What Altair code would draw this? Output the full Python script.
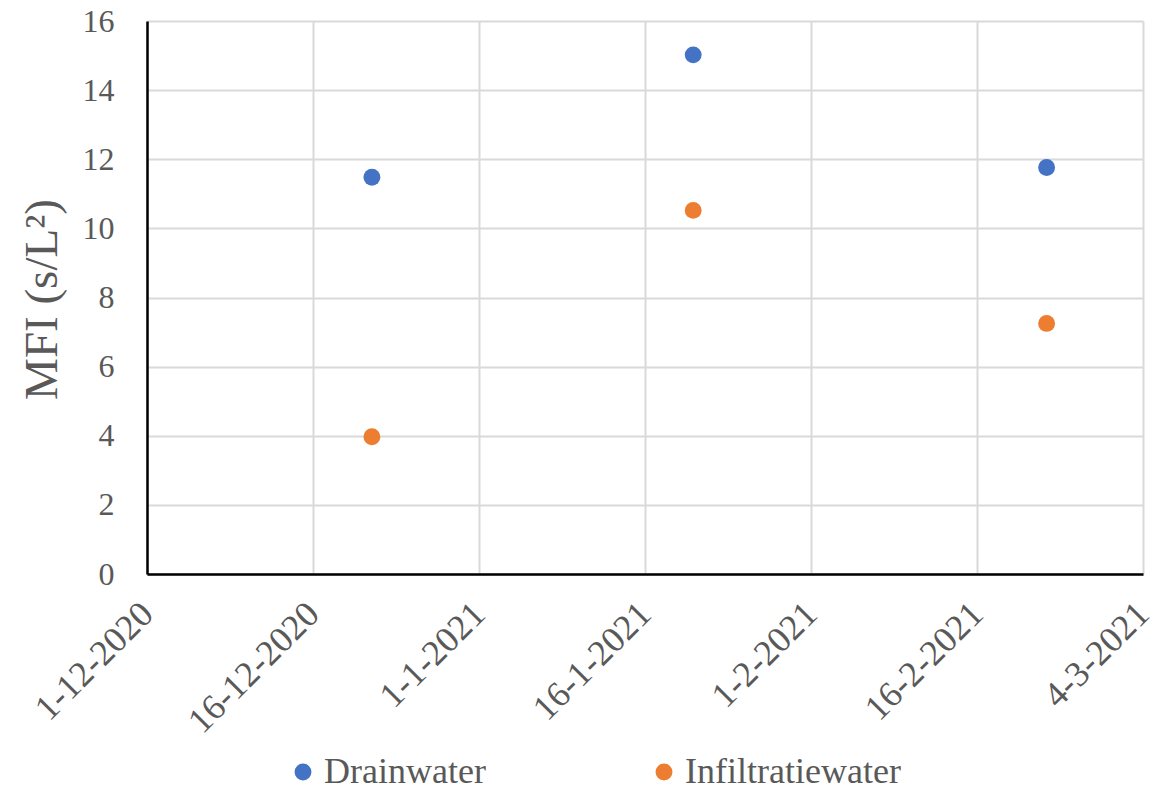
import altair as alt
import pandas as pd

# Data
dates = ["2020-12-22", "2021-01-21", "2021-02-23"]
drainwater = [11.48, 15.02, 11.76]
infiltratiewater = [3.97, 10.52, 7.25]

series_names = ["Drainwater", "Infiltratiewater"]
series_colors = ["#4472C4", "#ED7D31"]

# X axis tick positions (Excel date axis, major unit 15.5 days)
tick_dates = ["2020-12-01T00:00:00Z", "2020-12-16T12:00:00Z", "2021-01-01T00:00:00Z",
              "2021-01-16T12:00:00Z", "2021-02-01T00:00:00Z", "2021-02-16T12:00:00Z",
              "2021-03-04T00:00:00Z"]
y_ticks = [0, 2, 4, 6, 8, 10, 12, 14, 16]

rows = []
for d, v in zip(dates, drainwater):
    rows.append({"date": d, "value": v, "series": series_names[0]})
for d, v in zip(dates, infiltratiewater):
    rows.append({"date": d, "value": v, "series": series_names[1]})
df = pd.DataFrame(rows)

tick_ms = [int(pd.Timestamp(t).value // 10**6) for t in tick_dates]

FONT = "Liberation Serif, Times New Roman, DejaVu Serif, serif"
TXT = "#595959"

chart = alt.Chart(df).mark_circle(size=285, opacity=1).encode(
    x=alt.X(
        "date:T",
        scale=alt.Scale(type="utc", domain=[tick_ms[0], tick_ms[-1]], nice=False),
        axis=alt.Axis(
            values=tick_ms,
            labelExpr="utcFormat(datum.value, '%-d-%-m-%Y')",
            title=None,
            labelAngle=315,
            labelAlign="right",
            labelBaseline="middle",
            labelPadding=34,
            labelFontSize=36,
            labelFont=FONT,
            labelColor=TXT,
            ticks=False,
            grid=True,
            gridColor="#D9D9D9",
            gridWidth=2,
            domainColor="black",
            domainWidth=2.5,
            labelOverlap=False,
            labelBound=False,
            labelFlush=False,
        ),
    ),
    y=alt.Y(
        "value:Q",
        scale=alt.Scale(domain=[0, 16], nice=False),
        axis=alt.Axis(
            values=y_ticks,
            title="MFI (s/L²)",
            titleFont=FONT,
            titleFontSize=47,
            titleFontWeight="normal",
            titleColor=TXT,
            titleX=-105,
            titleY=278,
            titleAngle=270,
            titleAlign="center",
            titleBaseline="middle",
            labelFontSize=32,
            labelFont=FONT,
            labelColor=TXT,
            labelPadding=33,
            ticks=False,
            grid=True,
            gridColor="#D9D9D9",
            gridWidth=2,
            domainColor="black",
            domainWidth=2.5,
            labelOverlap=False,
        ),
    ),
    color=alt.Color(
        "series:N",
        scale=alt.Scale(domain=series_names, range=series_colors),
        legend=alt.Legend(
            title=None,
            orient="none",
            legendX=138,
            legendY=733,
            direction="horizontal",
            symbolType="circle",
            symbolSize=285,
            symbolOpacity=1,
            labelFont=FONT,
            labelFontSize=36,
            labelColor=TXT,
            labelOffset=3,
            columnPadding=160,
            labelLimit=400,
        ),
    ),
).properties(
    width=996,
    height=553,
    autosize=alt.AutoSizeParams(type="none"),
    padding={"left": 139, "top": 13, "right": 20, "bottom": 211},
).configure_view(stroke=None)

chart.save("out.html", embed_options={"renderer": "svg", "actions": False})
